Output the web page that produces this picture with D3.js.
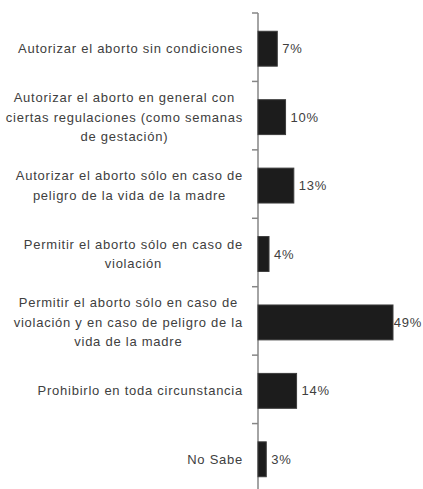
<!DOCTYPE html>
<html>
<head>
<meta charset="utf-8">
<script src="https://cdn.jsdelivr.net/npm/d3@7"></script>
<style>
  html, body { margin: 0; padding: 0; background: #ffffff; }
  svg { display: block; }
</style>
</head>
<body>
<svg id="chart" width="423" height="489"></svg>
<script>
// ---- data ----
const categories = [
  "Autorizar el aborto sin condiciones",
  "Autorizar el aborto en general con ciertas regulaciones (como semanas de gestación)",
  "Autorizar el aborto sólo en caso de peligro de la vida de la madre",
  "Permitir el aborto sólo en caso de violación",
  "Permitir el aborto sólo en caso de violación y en caso de peligro de la vida de la madre",
  "Prohibirlo en toda circunstancia",
  "No Sabe"
];
const categoryLines = [
  ["Autorizar el aborto sin condiciones"],
  ["Autorizar el aborto en general con", "ciertas regulaciones (como semanas", "de gestación)"],
  ["Autorizar el aborto sólo en caso de", "peligro de la vida de la madre"],
  ["Permitir el aborto sólo en caso de", "violación"],
  ["Permitir el aborto sólo en caso de", "violación y en caso de peligro de la", "vida de la madre"],
  ["Prohibirlo en toda circunstancia"],
  ["No Sabe"]
];
const values = [7, 10, 13, 4, 49, 14, 3];
const valueLabels = ["7%", "10%", "13%", "4%", "49%", "14%", "3%"];

// ---- layout ----
const W = 423, H = 489;
const axisX = 258;
const plotTop = 13, plotBottom = 492;
const fontFamily = "'Liberation Sans', Arial, sans-serif";
const fontSize = 13;
const letterSp = 0.75;
const lineH = 19.5;
const textColor = "#404040";

const svg = d3.select("#chart");

const y = d3.scaleBand().domain(categories).range([plotTop, plotBottom]).paddingInner(0.49).paddingOuter(0.245);
const x = d3.scaleLinear().domain([0, 49]).range([axisX, axisX + 135]);

// axis (categories) with ticks at band boundaries
const step = y.step();
const boundaries = d3.range(categories.length + 1).map(i => plotTop + i * step);
const axisG = svg.append("g");
axisG.append("line")
  .attr("x1", axisX).attr("x2", axisX)
  .attr("y1", plotTop).attr("y2", H + 5)
  .attr("stroke", "#868686").attr("stroke-width", 1.5);
axisG.selectAll("line.tick").data(boundaries).join("line")
  .attr("class", "tick")
  .attr("x1", axisX - 6).attr("x2", axisX)
  .attr("y1", d => d).attr("y2", d => d)
  .attr("stroke", "#868686").attr("stroke-width", 1.5);

// bars
svg.append("g").selectAll("rect").data(values).join("rect")
  .attr("x", x(0))
  .attr("y", (d, i) => y(categories[i]) + 1.5)
  .attr("width", d => x(d) - x(0))
  .attr("height", y.bandwidth())
  .attr("fill", "#1c1c1c")
  .attr("stroke", "#3c3c3c")
  .attr("stroke-width", 1);

// value labels
const vl = svg.append("g").selectAll("text").data(values).join("text")
  .attr("y", (d, i) => y(categories[i]) + 1.5 + y.bandwidth() / 2)
  .attr("dy", "0.35em")
  .attr("font-family", fontFamily)
  .attr("font-size", fontSize)
  .attr("letter-spacing", letterSp)
  .attr("fill", textColor)
  .text((d, i) => valueLabels[i]);
vl.attr("x", function(d) {
  const w = this.getComputedTextLength();
  return Math.min(x(d) + 5, W - 1 - w);
});

// category labels: right-aligned box, lines centered within it
const labelRight = 243;
const lg = svg.append("g");
categoryLines.forEach((lines, i) => {
  const cy = y(categories[i]) + 1.5 + y.bandwidth() / 2;
  const g = lg.append("g");
  const texts = g.selectAll("text").data(lines).join("text")
    .attr("font-family", fontFamily)
    .attr("font-size", fontSize)
    .attr("letter-spacing", letterSp)
    .attr("fill", textColor)
    .attr("text-anchor", "start")
    .attr("dy", "0.35em")
    .text(d => d);
  const widths = [];
  texts.each(function() { widths.push(this.getComputedTextLength()); });
  const maxW = d3.max(widths);
  const cx = labelRight - maxW / 2;
  const n = lines.length;
  texts.attr("x", (d, j) => cx - widths[j] / 2)
       .attr("y", (d, j) => cy + (j - (n - 1) / 2) * lineH);
});
</script>
</body>
</html>
